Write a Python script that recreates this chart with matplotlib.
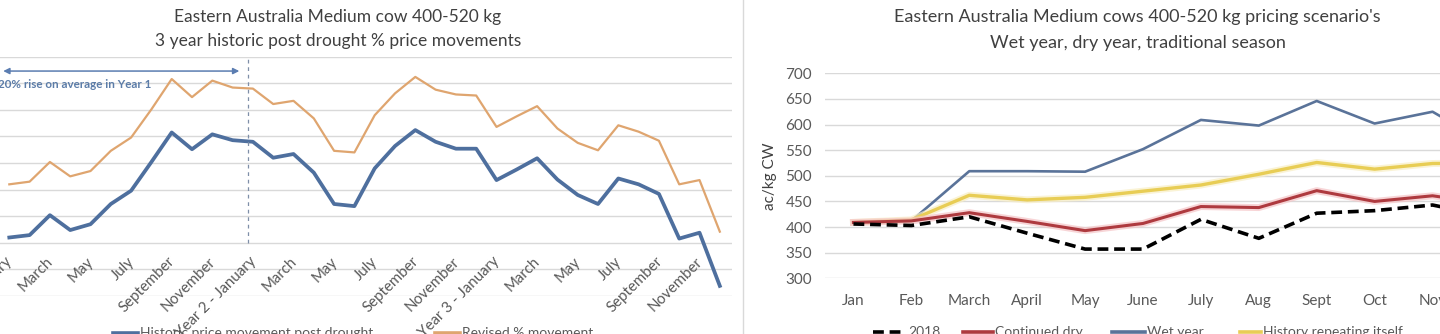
import matplotlib
matplotlib.use("Agg")
import matplotlib.pyplot as plt
from matplotlib.lines import Line2D

plt.rcParams['font.family'] = ['Lato', 'DejaVu Sans']

# ---------------- data: 3 year post drought % movements ----------------
months_full = ["January", "February", "March", "April", "May", "June", "July",
               "August", "September", "October", "November", "December"]
hist_categories = (months_full
                   + ["Year 2 - January"] + months_full[1:]
                   + ["Year 3 - January"] + months_full[1:])

historic_movement = [1.0, 1.45, 5.2, 2.4, 3.5, 7.3, 9.8, 15.2, 20.75, 17.6, 20.4, 19.3,
                     19.0, 16.0, 16.7, 13.2, 7.3, 6.9, 14.0, 18.2, 21.2, 19.0, 17.7, 17.7,
                     11.8, 13.8, 15.9, 11.9, 9.0, 7.3, 12.1, 11.0, 9.2, 0.8, 1.9, -8.1]
revised_movement = [11.0, 11.5, 15.2, 12.5, 13.5, 17.3, 19.8, 25.1, 30.8, 27.4, 30.5, 29.2,
                    29.0, 26.1, 26.7, 23.4, 17.3, 17.0, 24.0, 28.1, 31.2, 28.8, 27.9, 27.7,
                    21.8, 23.8, 25.7, 21.5, 18.8, 17.4, 22.1, 20.9, 19.2, 11.0, 11.8, 2.1]
hist_series_names = ["Historic price movement post drought", "Revised % movement"]
year1_note = "20% rise on average in Year 1"

# ---------------- data: pricing scenarios (c/kg CW) ----------------
scen_months = ["Jan", "Feb", "March", "April", "May", "June", "July", "Aug",
               "Sept", "Oct", "Nov", "Dec"]
price_2018 = [406, 403, 420, 388, 357, 357, 415, 378, 427, 432, 443, 420]
continued_dry = [409, 412, 428, 411, 393, 407, 440, 438, 471, 450, 461, 445]
wet_year = [407, 412, 509, 509, 508, 552, 609, 598, 646, 602, 625, 560]
history_repeating = [409, 414, 462, 453, 458, 470, 482, 503, 526, 513, 524, 525]
scen_names = ["2018", "Continued dry", "Wet year", "History repeating itself"]

W, H = 1440, 334
fig = plt.figure(figsize=(W / 100, H / 100), dpi=100)
fig.patch.set_facecolor("white")

TITLE_C = "#404040"
TICK_C = "#595959"
GRID_C = "#D9D9D9"
BLUE_L = "#4E6F9E"
ORANGE_L = "#DFA56F"


def px_box(x0, y0, x1, y1):
    return [x0 / W, 1 - y1 / H, (x1 - x0) / W, (y1 - y0) / H]


def fig_line(x0, x1, y, **kw):
    fig.add_artist(Line2D([x0 / W, x1 / W], [1 - y / H, 1 - y / H],
                          transform=fig.transFigure, **kw))


def fig_label(x, y, s, **kw):
    fig.text(x / W, 1 - y / H, s, ha="left", va="center", color=TICK_C, **kw)


# ---------------- left chart ----------------
ax1 = fig.add_axes(px_box(-0.85, 56.7, 732, 296))
n = len(hist_categories)
xs = list(range(n))
ax1.set_xlim(-0.5, n - 0.5 + 0.1)
ax1.set_ylim(-10, 35)
ax1.set_yticks(range(-10, 36, 5))
ax1.yaxis.grid(True, color=GRID_C, lw=1)
ax1.set_axisbelow(True)
ax1.tick_params(left=False, bottom=False, labelleft=False, labelbottom=False)
for s in ax1.spines.values():
    s.set_visible(False)

ax1.plot(xs, revised_movement, color=ORANGE_L, lw=1.6, solid_joinstyle="round")
ax1.plot(xs, historic_movement, color=BLUE_L, lw=2.7, solid_joinstyle="round")

for i in range(0, n, 2):
    ax1.text(i + 0.05, -3.1, hist_categories[i], rotation=45, ha="right", va="center",
             rotation_mode="anchor", fontsize=10.8, color=TICK_C, clip_on=False)

# year 1 marker, arrow and note
ax1.plot([11.76, 11.76], [0, 34.8], color="#7F8FA8", lw=0.9, ls=(0, (3, 3)))
ax1.annotate("", xy=(-0.3, 32.3), xytext=(11.33, 32.3),
             arrowprops=dict(arrowstyle="<|-|>", color="#5B7DB1", lw=1.1,
                             mutation_scale=9, shrinkA=0, shrinkB=0))
ax1.text(-0.56, 29.8, year1_note, fontsize=8.4, fontweight="bold", color="#5B7CA8",
         ha="left", va="center")

fig.text(338 / W, 1 - 17 / H, "Eastern Australia Medium cow 400-520 kg",
         ha="center", va="center", fontsize=12.5, color=TITLE_C)
fig.text(338 / W, 1 - 41 / H, "3 year historic post drought % price movements",
         ha="center", va="center", fontsize=12.5, color=TITLE_C)

fig_line(113, 138, 332.7, color=BLUE_L, lw=2.6)
fig_label(140, 333, hist_series_names[0], fontsize=10)
fig_line(435, 460, 332.7, color=ORANGE_L, lw=2.6)
fig_label(462, 333, hist_series_names[1], fontsize=10)

# separator between the two charts
fig.add_artist(Line2D([743 / W, 743 / W], [0, 1], transform=fig.transFigure,
                      color=GRID_C, lw=1))

# ---------------- right chart ----------------
ax2 = fig.add_axes(px_box(824.5, 73.3, 1519.4, 278.3))
m = len(scen_months)
xm = list(range(m))
ax2.set_xlim(-0.5, m - 0.5)
ax2.set_ylim(300, 700)
ax2.set_yticks(range(300, 701, 50))
ax2.set_xticks(xm)
ax2.set_xticklabels(scen_months)
ax2.yaxis.grid(True, color=GRID_C, lw=1)
ax2.set_axisbelow(True)
ax2.tick_params(length=0, labelsize=11, labelcolor=TICK_C)
ax2.tick_params(axis="y", pad=9)
ax2.tick_params(axis="x", pad=11)
for s in ax2.spines.values():
    s.set_visible(False)
ax2.set_ylabel("ac/kg CW", fontsize=11, color=TITLE_C, labelpad=6)

WET_C = "#5A7399"
DRY_C = "#AE3A3F"
HIST_C = "#E8CD55"

ax2.plot(xm, wet_year, color=WET_C, lw=1.9)
ax2.plot(xm, history_repeating, color="#F8EEC4", lw=5, alpha=0.7)
ax2.plot(xm, history_repeating, color=HIST_C, lw=2.4)
ax2.plot(xm, continued_dry, color="#F5C4C6", lw=5, alpha=0.7)
ax2.plot(xm, continued_dry, color=DRY_C, lw=2.2)
ax2.plot(xm, price_2018, color="black", lw=2.6, ls=(0, (3, 1.6)))

fig.text(1137.5 / W, 1 - 17 / H,
         "Eastern Australia Medium cows 400-520 kg pricing scenario's",
         ha="center", va="center", fontsize=13, color=TITLE_C)
fig.text(1137.5 / W, 1 - 43 / H, "Wet year, dry year, traditional season",
         ha="center", va="center", fontsize=13, color=TITLE_C)

fig_line(873, 903, 331.7, color="black", lw=2.6, ls=(0, (3, 1.6)))
fig_label(908, 332, scen_names[0], fontsize=10)
fig_line(963, 993, 331.7, color=DRY_C, lw=2.6)
fig_label(995, 332, scen_names[1], fontsize=10)
fig_line(1112, 1145, 331.7, color=WET_C, lw=2.6)
fig_label(1147, 332, scen_names[2], fontsize=10)
fig_line(1240, 1261, 331.7, color=HIST_C, lw=2.6)
fig_label(1263, 332, scen_names[3], fontsize=10)

fig.savefig("out.png", dpi=100)
